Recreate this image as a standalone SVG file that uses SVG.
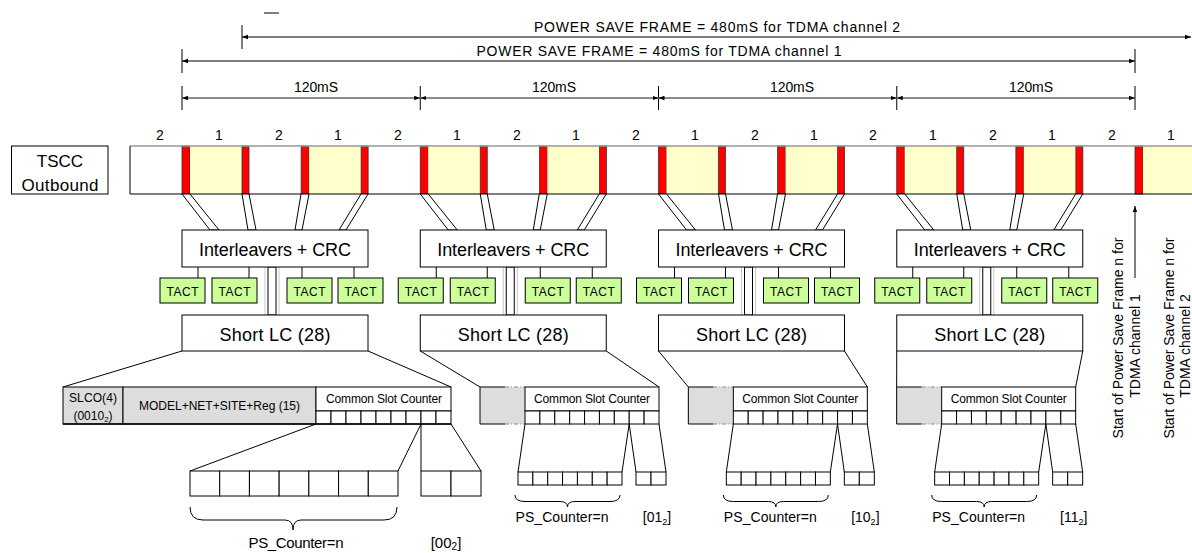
<svg xmlns="http://www.w3.org/2000/svg" width="1192" height="553" viewBox="0 0 1192 553">
<style>
.t{font-family:"Liberation Sans",Arial,sans-serif;fill:#000}
.m{text-anchor:middle}
.box{fill:#fff;stroke:#000;stroke-width:1}
.red{fill:#ff0000;stroke:#333;stroke-width:0.8}
.yel{fill:#ffffcc;stroke:none}
.tact{fill:#ccff99;stroke:#000;stroke-width:1}
.gray{fill:#dddddd;stroke:#000;stroke-width:1}
.ln{stroke:#000;stroke-width:1;fill:none}
.dim{stroke:#666;stroke-width:1.6;fill:none}
.faint{stroke:#c8c8c8;stroke-width:1;fill:none}
.pipe{fill:#fff;stroke:#000;stroke-width:1}
.dash{stroke:#888;stroke-width:1;stroke-dasharray:4 2 1 2;fill:none}
</style>
<defs>
<marker id="ah" viewBox="0 0 6 6" refX="6" refY="3" markerWidth="6" markerHeight="6" markerUnits="userSpaceOnUse" orient="auto-start-reverse"><path d="M0,0.8 L6,3 L0,5.2 z" fill="#000"/></marker>
<g id="tsccCell">
<rect class="red" x="0" y="146" width="8" height="48"/>
<rect class="yel" x="8" y="146" width="52" height="48"/>
<rect class="red" x="60" y="146" width="7" height="48"/>
</g>
</defs>
<rect width="1192" height="553" fill="#fff"/>

<!-- timing dimensions -->
<g id="timing">
<line class="ln" x1="264" y1="13" x2="279" y2="13"/>
<line class="ln" x1="242" y1="25" x2="242" y2="49"/>
<line class="ln" x1="242" y1="37" x2="1191" y2="37" marker-start="url(#ah)" marker-end="url(#ah)"/>
<text class="t m" x="717" y="32" font-size="14" textLength="366">POWER SAVE FRAME = 480mS for TDMA channel 2</text>
<line class="ln" x1="182" y1="49" x2="182" y2="73"/>
<line class="ln" x1="1135" y1="49" x2="1135" y2="73"/>
<line class="ln" x1="182" y1="61" x2="1135" y2="61" marker-start="url(#ah)" marker-end="url(#ah)"/>
<text class="t m" x="659" y="56" font-size="14" textLength="365">POWER SAVE FRAME = 480mS for TDMA channel 1</text>
<g class="ln">
<line x1="182" y1="86" x2="182" y2="110"/>
<line x1="420.25" y1="86" x2="420.25" y2="110"/>
<line x1="658.5" y1="86" x2="658.5" y2="110"/>
<line x1="896.75" y1="86" x2="896.75" y2="110"/>
<line x1="1135" y1="86" x2="1135" y2="110"/>
</g>
<line class="dim" x1="182" y1="98" x2="420.25" y2="98" marker-start="url(#ah)" marker-end="url(#ah)"/>
<line class="dim" x1="420.25" y1="98" x2="658.5" y2="98" marker-start="url(#ah)" marker-end="url(#ah)"/>
<line class="dim" x1="658.5" y1="98" x2="896.75" y2="98" marker-start="url(#ah)" marker-end="url(#ah)"/>
<line class="dim" x1="896.75" y1="98" x2="1135" y2="98" marker-start="url(#ah)" marker-end="url(#ah)"/>
<g class="t m" font-size="14">
<text x="316" y="92" textLength="44">120mS</text>
<text x="554" y="92" textLength="44">120mS</text>
<text x="792" y="92" textLength="44">120mS</text>
<text x="1031" y="92" textLength="44">120mS</text>
</g>
</g>

<!-- slot numbers -->
<g id="slot-numbers" class="t m" font-size="14">
<text x="160" y="140">2</text><text x="219" y="140">1</text><text x="279" y="140">2</text><text x="338" y="140">1</text>
<text x="398" y="140">2</text><text x="457" y="140">1</text><text x="517" y="140">2</text><text x="576" y="140">1</text>
<text x="636" y="140">2</text><text x="695" y="140">1</text><text x="755" y="140">2</text><text x="814" y="140">1</text>
<text x="873" y="140">2</text><text x="933" y="140">1</text><text x="993" y="140">2</text><text x="1052" y="140">1</text>
<text x="1112" y="140">2</text><text x="1171" y="140">1</text>
</g>

<g id="tscc-label">
<rect class="box" x="11.5" y="146" width="96.5" height="48"/>
<text class="t m" x="60" y="167" font-size="17">TSCC</text>
<text class="t m" x="60" y="191" font-size="17" textLength="77">Outbound</text>
</g>

<g id="tscc-bar">
<rect x="130" y="146" width="1062" height="48" fill="#fff"/>
<use href="#tsccCell" x="182"/>
<use href="#tsccCell" x="301.125"/>
<use href="#tsccCell" x="420.25"/>
<use href="#tsccCell" x="539.375"/>
<use href="#tsccCell" x="658.5"/>
<use href="#tsccCell" x="777.625"/>
<use href="#tsccCell" x="896.75"/>
<use href="#tsccCell" x="1015.875"/>
<rect class="red" x="1135" y="146" width="8" height="48"/>
<rect class="yel" x="1143" y="146" width="49" height="48"/>
<line x1="130" y1="146" x2="1192" y2="146" stroke="#999" stroke-width="1.5"/>
<line class="ln" x1="130" y1="194" x2="1192" y2="194"/>
<line class="ln" x1="130" y1="146" x2="130" y2="194"/>
</g>

<!-- connectors -->
<g id="connectors">
<g transform="translate(182,0)">
<polygon class="pipe" points="0,194 8,194 37,230 28,230"/><polygon class="pipe" points="60,194 67,194 74,230 66,230"/>
<polygon class="pipe" points="119,194 127,194 120,230 113,230"/><polygon class="pipe" points="179,194 186,194 164,230 157,230"/>
<g class="ln"><line x1="16" y1="267" x2="16" y2="278"/><line x1="67" y1="267" x2="67" y2="278"/><line x1="120" y1="267" x2="120" y2="278"/><line x1="172" y1="267" x2="172" y2="278"/></g>
<line class="faint" x1="83" y1="267" x2="83" y2="315"/><line class="faint" x1="97" y1="267" x2="97" y2="315"/>
<rect class="pipe" x="86" y="267" width="8" height="48"/>
</g>
<g transform="translate(420.25,0)">
<polygon class="pipe" points="0,194 8,194 37,230 28,230"/><polygon class="pipe" points="60,194 67,194 74,230 66,230"/>
<polygon class="pipe" points="119,194 127,194 120,230 113,230"/><polygon class="pipe" points="179,194 186,194 164,230 157,230"/>
<g class="ln"><line x1="16" y1="267" x2="16" y2="278"/><line x1="67" y1="267" x2="67" y2="278"/><line x1="120" y1="267" x2="120" y2="278"/><line x1="172" y1="267" x2="172" y2="278"/></g>
<line class="faint" x1="83" y1="267" x2="83" y2="315"/><line class="faint" x1="97" y1="267" x2="97" y2="315"/>
<rect class="pipe" x="86" y="267" width="8" height="48"/>
</g>
<g transform="translate(658.5,0)">
<polygon class="pipe" points="0,194 8,194 37,230 28,230"/><polygon class="pipe" points="60,194 67,194 74,230 66,230"/>
<polygon class="pipe" points="119,194 127,194 120,230 113,230"/><polygon class="pipe" points="179,194 186,194 164,230 157,230"/>
<g class="ln"><line x1="16" y1="267" x2="16" y2="278"/><line x1="67" y1="267" x2="67" y2="278"/><line x1="120" y1="267" x2="120" y2="278"/><line x1="172" y1="267" x2="172" y2="278"/></g>
<line class="faint" x1="83" y1="267" x2="83" y2="315"/><line class="faint" x1="97" y1="267" x2="97" y2="315"/>
<rect class="pipe" x="86" y="267" width="8" height="48"/>
</g>
<g transform="translate(896.75,0)">
<polygon class="pipe" points="0,194 8,194 37,230 28,230"/><polygon class="pipe" points="60,194 67,194 74,230 66,230"/>
<polygon class="pipe" points="119,194 127,194 120,230 113,230"/><polygon class="pipe" points="179,194 186,194 164,230 157,230"/>
<g class="ln"><line x1="16" y1="267" x2="16" y2="278"/><line x1="67" y1="267" x2="67" y2="278"/><line x1="120" y1="267" x2="120" y2="278"/><line x1="172" y1="267" x2="172" y2="278"/></g>
<line class="faint" x1="83" y1="267" x2="83" y2="315"/><line class="faint" x1="97" y1="267" x2="97" y2="315"/>
<rect class="pipe" x="86" y="267" width="8" height="48"/>
</g>
<g class="ln">
<line x1="182" y1="351" x2="63" y2="387"/><line x1="368" y1="351" x2="451" y2="387"/>
<line x1="420.25" y1="351" x2="480" y2="387"/><line x1="606.25" y1="351" x2="659" y2="387"/>
<line x1="658.5" y1="351" x2="688.33" y2="387"/><line x1="844.5" y1="351" x2="867.33" y2="387"/>
<line x1="896.75" y1="351" x2="896.67" y2="387"/><line x1="1082.75" y1="351" x2="1075.67" y2="387"/>
<line x1="316" y1="424" x2="190" y2="471"/><line x1="421" y1="424" x2="398" y2="471"/>
<line x1="421" y1="424" x2="421" y2="471"/><line x1="451" y1="424" x2="481" y2="471"/>
</g>
<g class="ln" transform="translate(480,0)"><line x1="45" y1="424" x2="38" y2="472"/><line x1="149.2" y1="424" x2="142" y2="472"/><line x1="149.2" y1="424" x2="156" y2="472"/><line x1="179" y1="424" x2="186" y2="472"/></g>
<g class="ln" transform="translate(688.33,0)"><line x1="45" y1="424" x2="38" y2="472"/><line x1="149.2" y1="424" x2="142" y2="472"/><line x1="149.2" y1="424" x2="156" y2="472"/><line x1="179" y1="424" x2="186" y2="472"/></g>
<g class="ln" transform="translate(896.67,0)"><line x1="45" y1="424" x2="38" y2="472"/><line x1="149.2" y1="424" x2="142" y2="472"/><line x1="149.2" y1="424" x2="156" y2="472"/><line x1="179" y1="424" x2="186" y2="472"/></g>
<line class="ln" x1="1135" y1="278" x2="1135" y2="206" marker-end="url(#ah)"/>
</g>

<!-- processing blocks -->
<g id="block1" transform="translate(182,0)">
<g id="interleavers1"><rect class="box" x="0" y="230" width="186" height="37"/><text class="t m" x="93" y="256" font-size="18" textLength="152">Interleavers + CRC</text></g>
<g id="tact1" class="t m" font-size="12">
<rect class="tact" x="-22" y="278" width="45" height="25"/><rect class="tact" x="30" y="278" width="45" height="25"/><rect class="tact" x="105" y="278" width="45" height="25"/><rect class="tact" x="156" y="278" width="45" height="25"/>
<text x="0.5" y="296" textLength="32">TACT</text><text x="52.5" y="296" textLength="32">TACT</text><text x="127.5" y="296" textLength="32">TACT</text><text x="178.5" y="296" textLength="32">TACT</text>
</g>
<g id="shortlc1"><rect class="box" x="0" y="315" width="186" height="36"/><text class="t m" x="93" y="341" font-size="18" textLength="111">Short LC (28)</text></g>
</g>
<g id="block2" transform="translate(420.25,0)">
<g id="interleavers2"><rect class="box" x="0" y="230" width="186" height="37"/><text class="t m" x="93" y="256" font-size="18" textLength="152">Interleavers + CRC</text></g>
<g id="tact2" class="t m" font-size="12">
<rect class="tact" x="-22" y="278" width="45" height="25"/><rect class="tact" x="30" y="278" width="45" height="25"/><rect class="tact" x="105" y="278" width="45" height="25"/><rect class="tact" x="156" y="278" width="45" height="25"/>
<text x="0.5" y="296" textLength="32">TACT</text><text x="52.5" y="296" textLength="32">TACT</text><text x="127.5" y="296" textLength="32">TACT</text><text x="178.5" y="296" textLength="32">TACT</text>
</g>
<g id="shortlc2"><rect class="box" x="0" y="315" width="186" height="36"/><text class="t m" x="93" y="341" font-size="18" textLength="111">Short LC (28)</text></g>
</g>
<g id="block3" transform="translate(658.5,0)">
<g id="interleavers3"><rect class="box" x="0" y="230" width="186" height="37"/><text class="t m" x="93" y="256" font-size="18" textLength="152">Interleavers + CRC</text></g>
<g id="tact3" class="t m" font-size="12">
<rect class="tact" x="-22" y="278" width="45" height="25"/><rect class="tact" x="30" y="278" width="45" height="25"/><rect class="tact" x="105" y="278" width="45" height="25"/><rect class="tact" x="156" y="278" width="45" height="25"/>
<text x="0.5" y="296" textLength="32">TACT</text><text x="52.5" y="296" textLength="32">TACT</text><text x="127.5" y="296" textLength="32">TACT</text><text x="178.5" y="296" textLength="32">TACT</text>
</g>
<g id="shortlc3"><rect class="box" x="0" y="315" width="186" height="36"/><text class="t m" x="93" y="341" font-size="18" textLength="111">Short LC (28)</text></g>
</g>
<g id="block4" transform="translate(896.75,0)">
<g id="interleavers4"><rect class="box" x="0" y="230" width="186" height="37"/><text class="t m" x="93" y="256" font-size="18" textLength="152">Interleavers + CRC</text></g>
<g id="tact4" class="t m" font-size="12">
<rect class="tact" x="-22" y="278" width="45" height="25"/><rect class="tact" x="30" y="278" width="45" height="25"/><rect class="tact" x="105" y="278" width="45" height="25"/><rect class="tact" x="156" y="278" width="45" height="25"/>
<text x="0.5" y="296" textLength="32">TACT</text><text x="52.5" y="296" textLength="32">TACT</text><text x="127.5" y="296" textLength="32">TACT</text><text x="178.5" y="296" textLength="32">TACT</text>
</g>
<g id="shortlc4"><rect class="box" x="0" y="315" width="186" height="36"/><text class="t m" x="93" y="341" font-size="18" textLength="111">Short LC (28)</text></g>
</g>

<!-- LC field detail, block 1 -->
<g id="lc-fields1">
<rect class="gray" x="63" y="387" width="60" height="37"/>
<rect class="gray" x="123" y="387" width="193" height="37"/>
<rect class="box" x="316" y="387" width="135" height="24"/>
<g class="box">
<rect x="316" y="411" width="15" height="13"/><rect x="331" y="411" width="15" height="13"/><rect x="346" y="411" width="15" height="13"/>
<rect x="361" y="411" width="15" height="13"/><rect x="376" y="411" width="15" height="13"/><rect x="391" y="411" width="15" height="13"/>
<rect x="406" y="411" width="15" height="13"/><rect x="421" y="411" width="15" height="13"/><rect x="436" y="411" width="15" height="13"/>
</g>
<line x1="63" y1="424" x2="451" y2="424" stroke="#000" stroke-width="1.6"/>
<text class="t m" x="93" y="402" font-size="12" textLength="48">SLCO(4)</text>
<text class="t m" x="93" y="420" font-size="12">(0010<tspan font-size="8" dy="2">2</tspan><tspan dy="-2">)</tspan></text>
<text class="t m" x="219.5" y="410" font-size="12" textLength="161">MODEL+NET+SITE+Reg (15)</text>
<text class="t m" x="384" y="403" font-size="12" textLength="116">Common Slot Counter</text>
</g>
<g id="ps-counter1">
<g class="box">
<rect x="190" y="471" width="29.71" height="25"/><rect x="219.71" y="471" width="29.71" height="25"/><rect x="249.43" y="471" width="29.71" height="25"/>
<rect x="279.14" y="471" width="29.71" height="25"/><rect x="308.86" y="471" width="29.71" height="25"/><rect x="338.57" y="471" width="29.71" height="25"/>
<rect x="368.29" y="471" width="29.71" height="25"/>
<rect x="421" y="471" width="30" height="25"/><rect x="451" y="471" width="30" height="25"/>
</g>
<path class="ln" d="M190,507 Q190,520 203,520 L285,520 Q293,520 293,530 Q293,520 301,520 L384,520 Q397,520 397,507"/>
<text class="t m" x="296" y="548" font-size="15" textLength="95">PS_Counter=n</text>
<text class="t m" x="446" y="548" font-size="15">[00<tspan font-size="10" dy="2">2</tspan><tspan dy="-2">]</tspan></text>
</g>

<!-- LC field detail, blocks 2-4 -->
<g id="lc-fields2" transform="translate(480,0)">
<rect x="0" y="387" width="45" height="37" fill="#dddddd"/>
<path class="ln" d="M25,387 L0,387 L0,424 L25,424"/>
<line class="dash" x1="25" y1="387" x2="45" y2="387"/><line class="dash" x1="25" y1="424" x2="45" y2="424"/>
<rect class="box" x="45" y="387" width="134" height="24"/>
<g class="box">
<rect x="45" y="411" width="14.89" height="13"/><rect x="59.89" y="411" width="14.89" height="13"/><rect x="74.78" y="411" width="14.89" height="13"/>
<rect x="89.67" y="411" width="14.89" height="13"/><rect x="104.56" y="411" width="14.89" height="13"/><rect x="119.44" y="411" width="14.89" height="13"/>
<rect x="134.33" y="411" width="14.89" height="13"/><rect x="149.22" y="411" width="14.89" height="13"/><rect x="164.11" y="411" width="14.89" height="13"/>
</g>
<text class="t m" x="112" y="403" font-size="12" textLength="116">Common Slot Counter</text>
</g>
<g id="ps-counter2" transform="translate(480,0)">
<g class="box">
<rect x="38" y="472" width="14.86" height="13"/><rect x="52.86" y="472" width="14.86" height="13"/><rect x="67.71" y="472" width="14.86" height="13"/>
<rect x="82.57" y="472" width="14.86" height="13"/><rect x="97.43" y="472" width="14.86" height="13"/><rect x="112.29" y="472" width="14.86" height="13"/>
<rect x="127.14" y="472" width="14.86" height="13"/>
<rect x="156" y="472" width="15" height="13"/><rect x="171" y="472" width="15" height="13"/>
</g>
<path class="ln" d="M35,495 Q35,501.5 45,501.5 L80,501.5 Q87.5,501.5 87.5,507 Q87.5,501.5 95,501.5 L130,501.5 Q140,501.5 140,495"/>
<text class="t m" x="82" y="522" font-size="14" textLength="93">PS_Counter=n</text>
<text class="t m" x="177" y="522" font-size="14">[01<tspan font-size="9" dy="3">2</tspan><tspan dy="-3">]</tspan></text>
</g>

<g id="lc-fields3" transform="translate(688.33,0)">
<rect x="0" y="387" width="45" height="37" fill="#dddddd"/>
<path class="ln" d="M25,387 L0,387 L0,424 L25,424"/>
<line class="dash" x1="25" y1="387" x2="45" y2="387"/><line class="dash" x1="25" y1="424" x2="45" y2="424"/>
<rect class="box" x="45" y="387" width="134" height="24"/>
<g class="box">
<rect x="45" y="411" width="14.89" height="13"/><rect x="59.89" y="411" width="14.89" height="13"/><rect x="74.78" y="411" width="14.89" height="13"/>
<rect x="89.67" y="411" width="14.89" height="13"/><rect x="104.56" y="411" width="14.89" height="13"/><rect x="119.44" y="411" width="14.89" height="13"/>
<rect x="134.33" y="411" width="14.89" height="13"/><rect x="149.22" y="411" width="14.89" height="13"/><rect x="164.11" y="411" width="14.89" height="13"/>
</g>
<text class="t m" x="112" y="403" font-size="12" textLength="116">Common Slot Counter</text>
</g>
<g id="ps-counter3" transform="translate(688.33,0)">
<g class="box">
<rect x="38" y="472" width="14.86" height="13"/><rect x="52.86" y="472" width="14.86" height="13"/><rect x="67.71" y="472" width="14.86" height="13"/>
<rect x="82.57" y="472" width="14.86" height="13"/><rect x="97.43" y="472" width="14.86" height="13"/><rect x="112.29" y="472" width="14.86" height="13"/>
<rect x="127.14" y="472" width="14.86" height="13"/>
<rect x="156" y="472" width="15" height="13"/><rect x="171" y="472" width="15" height="13"/>
</g>
<path class="ln" d="M35,495 Q35,501.5 45,501.5 L80,501.5 Q87.5,501.5 87.5,507 Q87.5,501.5 95,501.5 L130,501.5 Q140,501.5 140,495"/>
<text class="t m" x="82" y="522" font-size="14" textLength="93">PS_Counter=n</text>
<text class="t m" x="177" y="522" font-size="14">[10<tspan font-size="9" dy="3">2</tspan><tspan dy="-3">]</tspan></text>
</g>

<g id="lc-fields4" transform="translate(896.67,0)">
<rect x="0" y="387" width="45" height="37" fill="#dddddd"/>
<path class="ln" d="M25,387 L0,387 L0,424 L25,424"/>
<line class="dash" x1="25" y1="387" x2="45" y2="387"/><line class="dash" x1="25" y1="424" x2="45" y2="424"/>
<rect class="box" x="45" y="387" width="134" height="24"/>
<g class="box">
<rect x="45" y="411" width="14.89" height="13"/><rect x="59.89" y="411" width="14.89" height="13"/><rect x="74.78" y="411" width="14.89" height="13"/>
<rect x="89.67" y="411" width="14.89" height="13"/><rect x="104.56" y="411" width="14.89" height="13"/><rect x="119.44" y="411" width="14.89" height="13"/>
<rect x="134.33" y="411" width="14.89" height="13"/><rect x="149.22" y="411" width="14.89" height="13"/><rect x="164.11" y="411" width="14.89" height="13"/>
</g>
<text class="t m" x="112" y="403" font-size="12" textLength="116">Common Slot Counter</text>
</g>
<g id="ps-counter4" transform="translate(896.67,0)">
<g class="box">
<rect x="38" y="472" width="14.86" height="13"/><rect x="52.86" y="472" width="14.86" height="13"/><rect x="67.71" y="472" width="14.86" height="13"/>
<rect x="82.57" y="472" width="14.86" height="13"/><rect x="97.43" y="472" width="14.86" height="13"/><rect x="112.29" y="472" width="14.86" height="13"/>
<rect x="127.14" y="472" width="14.86" height="13"/>
<rect x="156" y="472" width="15" height="13"/><rect x="171" y="472" width="15" height="13"/>
</g>
<path class="ln" d="M35,495 Q35,501.5 45,501.5 L80,501.5 Q87.5,501.5 87.5,507 Q87.5,501.5 95,501.5 L130,501.5 Q140,501.5 140,495"/>
<text class="t m" x="82" y="522" font-size="14" textLength="93">PS_Counter=n</text>
<text class="t m" x="177" y="522" font-size="14">[11<tspan font-size="9" dy="3">2</tspan><tspan dy="-3">]</tspan></text>
</g>

<!-- vertical annotations -->
<g id="start-ch1" class="t m" font-size="14">
<text transform="translate(1123,338) rotate(-90)">Start of Power Save Frame n for</text>
<text transform="translate(1140,346) rotate(-90)">TDMA channel 1</text>
</g>
<g id="start-ch2" class="t m" font-size="14">
<text transform="translate(1174,338) rotate(-90)">Start of Power Save Frame n for</text>
<text transform="translate(1190,346) rotate(-90)">TDMA channel 2</text>
</g>
</svg>
